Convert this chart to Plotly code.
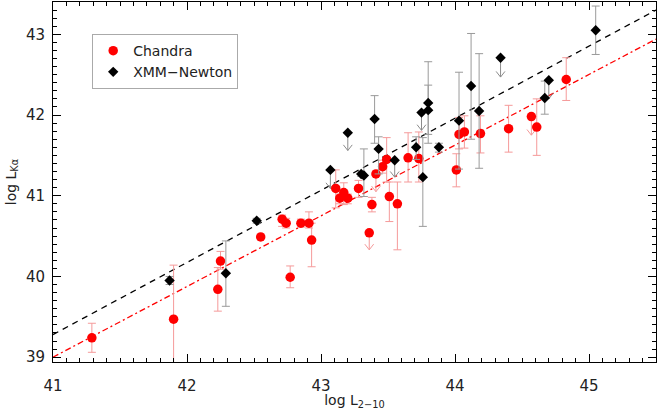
import plotly.graph_objects as go

# ---------------- data ----------------
# Chandra detections
ch_x  = [41.29, 41.90, 42.23, 42.25, 42.55, 42.71, 42.74, 42.77, 42.85, 42.91, 42.93, 43.11, 43.14, 43.17, 43.20,
         43.28, 43.38, 43.46, 43.49, 43.51, 43.57, 43.65, 43.73, 44.01, 44.03, 44.07, 44.19, 44.40, 44.61, 44.83]
ch_y  = [39.24, 39.47, 39.84, 40.19, 40.49, 40.71, 40.66, 39.99, 40.66, 40.66, 40.45, 41.09, 40.97, 41.04, 40.97,
         41.09, 40.89, 41.36, 41.45, 40.99, 40.90, 41.47, 41.46, 41.32, 41.76, 41.79, 41.77, 41.83, 41.85, 42.44]
ch_hi = [39.42, 40.14, 40.11, 40.31, 40.49, 40.76, 40.72, 40.13, 40.71, 40.80, 40.66, 41.32, 41.02, 41.16, 41.02,
         41.19, 40.98, 41.44, 41.72, 41.17, 41.17, 41.78, 41.79, 41.52, 41.97, 41.99, 41.99, 42.12, 42.20, 42.71]
ch_lo = [39.06, 38.80, 39.57, 40.09, 40.49, 40.62, 40.60, 39.86, 40.61, 40.60, 40.12, 40.85, 40.90, 40.89, 40.90,
         40.98, 40.80, 41.28, 41.17, 40.68, 40.33, 41.17, 41.17, 41.11, 41.58, 41.59, 41.53, 41.54, 41.50, 42.18]

# Chandra upper limits
chl_x   = [43.36, 43.41, 44.57]
chl_y   = [40.54, 41.27, 41.98]
chl_tip = [40.33, 41.05, 41.75]

# XMM-Newton detections
xm_x  = [41.87, 42.29, 42.52, 43.30, 43.32, 43.40, 43.43, 43.71, 43.76, 43.80, 43.80, 43.88, 44.03, 44.12, 44.18, 44.67, 45.05]
xm_y  = [39.95, 40.04, 40.69, 41.27, 41.25, 41.95, 41.58, 41.60, 41.23, 42.15, 42.06, 41.60, 41.93, 42.36, 42.05, 42.21, 43.05]
xm_hi = [40.00, 40.44, 40.72, 41.30, 41.58, 42.24, 41.73, 41.73, 41.72, 42.66, 42.37, 41.65, 42.53, 43.01, 42.76, 42.42, 43.35]
xm_lo = [39.90, 39.63, 40.66, 41.24, 40.99, 41.65, 41.27, 41.45, 40.62, 41.76, 41.65, 41.54, 41.33, 41.70, 41.34, 42.01, 42.75]

# XMM-Newton upper limits
xml_x   = [43.07, 43.20, 43.55, 43.75, 44.34, 44.70]
xml_y   = [41.32, 41.78, 41.44, 42.03, 42.71, 42.43]
xml_tip = [41.09, 41.56, 41.23, 41.81, 42.47, 42.20]

# relations
line_x     = [41.0, 45.5]
line_xmm   = [39.28, 43.30]
line_chan  = [39.00, 42.94]

x_ticks = [41, 42, 43, 44, 45]
y_ticks = [39, 40, 41, 42, 43]

# ---------------- helpers ----------------
DX, DY = 0.033, 0.07   # arrow-head arm size in data units


def arrows(xs, ys, tips):
    px, py = [], []
    for x, y, t in zip(xs, ys, tips):
        px += [x, x, None, x - DX, x, x + DX, None]
        py += [y, t, None, t + DY, t, t + DY, None]
    return px, py


fig = go.Figure()

fig.add_trace(go.Scatter(x=line_x, y=line_xmm, mode="lines", showlegend=False,
                         line=dict(color="black", width=1.3, dash="6px,5px"), hoverinfo="skip"))
fig.add_trace(go.Scatter(x=line_x, y=line_chan, mode="lines", showlegend=False,
                         line=dict(color="red", width=1.3, dash="6px,3px,2px,3px"), hoverinfo="skip"))

ax_, ay_ = arrows(xml_x, xml_y, xml_tip)
fig.add_trace(go.Scatter(x=ax_, y=ay_, mode="lines", showlegend=False,
                         line=dict(color="#8c8c8c", width=1), hoverinfo="skip"))
ax_, ay_ = arrows(chl_x, chl_y, chl_tip)
fig.add_trace(go.Scatter(x=ax_, y=ay_, mode="lines", showlegend=False,
                         line=dict(color="#f59a9a", width=1), hoverinfo="skip"))

fig.add_trace(go.Scatter(
    x=ch_x, y=ch_y, mode="markers", name="Chandra",
    marker=dict(symbol="circle", size=9.5, color="red"),
    error_y=dict(type="data", symmetric=False,
                 array=[h - y for h, y in zip(ch_hi, ch_y)],
                 arrayminus=[y - l for l, y in zip(ch_lo, ch_y)],
                 color="#f59a9a", thickness=1, width=4)))
fig.add_trace(go.Scatter(
    x=chl_x, y=chl_y, mode="markers", showlegend=False,
    marker=dict(symbol="circle", size=9.5, color="red")))

fig.add_trace(go.Scatter(
    x=xm_x, y=xm_y, mode="markers", name="XMM\u2212Newton",
    marker=dict(symbol="diamond", size=8, color="black"),
    error_y=dict(type="data", symmetric=False,
                 array=[h - y for h, y in zip(xm_hi, xm_y)],
                 arrayminus=[y - l for l, y in zip(xm_lo, xm_y)],
                 color="#9a9a9a", thickness=1, width=4)))
fig.add_trace(go.Scatter(
    x=xml_x, y=xml_y, mode="markers", showlegend=False,
    marker=dict(symbol="diamond", size=8, color="black")))

FONT = "DejaVu Sans"
axis_common = dict(showgrid=False, zeroline=False, showline=True, linecolor="black", linewidth=1,
                   mirror="allticks", ticks="inside", ticklen=8, tickcolor="black", tickwidth=1,
                   automargin=False,
                   minor=dict(ticks="inside", ticklen=4, dtick=0.1, tickcolor="black", showgrid=False),
                   tickfont=dict(family=FONT, size=15, color="#222"))

fig.update_xaxes(range=[41, 45.5], tickvals=x_ticks, ticktext=[str(v) for v in x_ticks],
                 ticklabelstandoff=10,
                 title=dict(text="log L<sub>2\u221210</sub>", font=dict(family=FONT, size=14, color="#222"),
                            standoff=0),
                 **axis_common)
fig.update_yaxes(range=[38.94, 43.4], tickvals=y_ticks, ticktext=[str(v) for v in y_ticks],
                 ticklabelstandoff=4,
                 title=dict(text="log L<sub>K\u03b1</sub>", font=dict(family=FONT, size=14, color="#222"),
                            standoff=6),
                 **axis_common)

fig.update_layout(
    width=657, height=410,
    margin=dict(l=53, r=1, t=2, b=48),
    paper_bgcolor="white", plot_bgcolor="white",
    legend=dict(x=0.065, y=0.911, xanchor="left", yanchor="top",
                bordercolor="#aaaaaa", borderwidth=1, bgcolor="white",
                font=dict(family=FONT, size=14, color="#222"), tracegroupgap=0),
    showlegend=True,
)

fig.write_html("out.html", config={"displayModeBar": False},
               post_script="document.body.style.margin='0';document.body.style.overflow='hidden';")
